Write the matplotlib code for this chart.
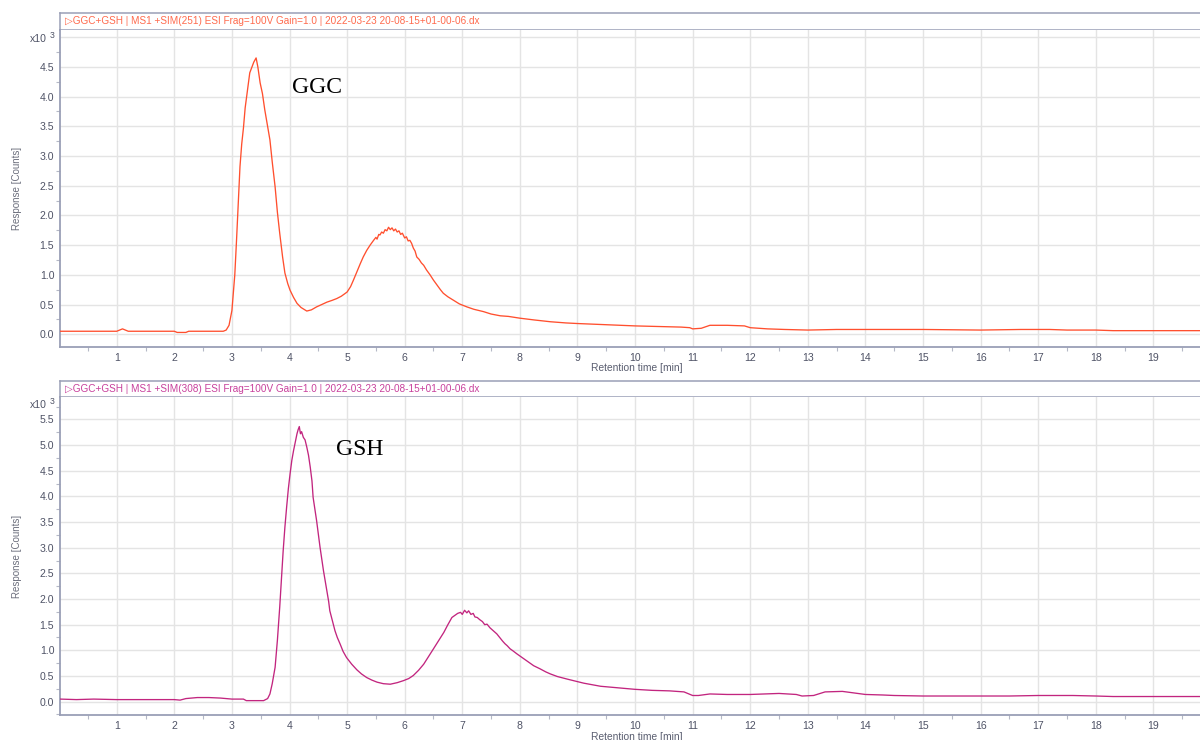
import matplotlib
matplotlib.use("Agg")
import matplotlib.pyplot as plt
from matplotlib.ticker import MultipleLocator, FixedLocator, FuncFormatter

# Extracted ion chromatograms, response in units of 10^3 counts
ggc_time = [0.02, 0.5, 1.0, 1.05, 1.1, 1.15, 1.2, 1.6, 2.0, 2.05, 2.2, 2.25, 2.6, 2.85,
            2.9, 2.95, 3.0, 3.05, 3.08, 3.11, 3.14, 3.17, 3.2, 3.23, 3.27, 3.31, 3.35,
            3.38, 3.42, 3.45, 3.49, 3.53, 3.57, 3.61, 3.66, 3.7, 3.75, 3.79, 3.83, 3.88,
            3.92, 3.97, 4.01, 4.07, 4.13, 4.2, 4.3, 4.38, 4.47, 4.56, 4.65, 4.74, 4.82,
            4.9, 5.0, 5.06, 5.11, 5.17, 5.23, 5.28, 5.34, 5.4, 5.46, 5.5, 5.52, 5.55,
            5.57, 5.6, 5.63, 5.66, 5.69, 5.72, 5.75, 5.78, 5.81, 5.84, 5.87, 5.9, 5.93,
            5.96, 6.0, 6.03, 6.06, 6.09, 6.12, 6.15, 6.18, 6.21, 6.25, 6.29, 6.33, 6.38,
            6.44, 6.5, 6.56, 6.62, 6.67, 6.75, 6.85, 6.95, 7.08, 7.2, 7.37, 7.5, 7.66,
            7.8, 8.0, 8.25, 8.53, 8.8, 9.0, 9.5, 10.0, 10.4, 10.8, 10.95, 11.0, 11.15,
            11.3, 11.6, 11.9, 12.0, 12.3, 12.6, 13.0, 13.5, 14.0, 14.5, 15.0, 16.0,
            16.7, 17.2, 17.5, 18.0, 18.3, 19.0, 19.81]
ggc_resp = [0.05, 0.05, 0.05, 0.07, 0.09, 0.07, 0.05, 0.05, 0.05, 0.03, 0.03, 0.05, 0.05, 0.05,
            0.07, 0.15, 0.40, 1.00, 1.58, 2.20, 2.82, 3.20, 3.47, 3.81, 4.10, 4.40, 4.50,
            4.58, 4.65, 4.50, 4.23, 4.05, 3.78, 3.55, 3.27, 2.90, 2.48, 2.05, 1.70, 1.30,
            1.03, 0.85, 0.74, 0.62, 0.52, 0.45, 0.39, 0.41, 0.46, 0.50, 0.54, 0.57, 0.60,
            0.64, 0.71, 0.80, 0.91, 1.05, 1.19, 1.30, 1.41, 1.50, 1.58, 1.63, 1.60, 1.68,
            1.67, 1.72, 1.70, 1.76, 1.74, 1.80, 1.76, 1.79, 1.74, 1.77, 1.72, 1.74, 1.68,
            1.70, 1.62, 1.64, 1.57, 1.58, 1.53, 1.45, 1.40, 1.30, 1.26, 1.20, 1.16, 1.08,
            1.00, 0.91, 0.83, 0.75, 0.69, 0.63, 0.57, 0.51, 0.46, 0.42, 0.38, 0.34, 0.31,
            0.30, 0.27, 0.24, 0.21, 0.19, 0.18, 0.16, 0.14, 0.13, 0.12, 0.11, 0.09, 0.10,
            0.15, 0.15, 0.14, 0.11, 0.09, 0.08, 0.07, 0.08, 0.08, 0.08, 0.08, 0.07,
            0.08, 0.08, 0.07, 0.07, 0.06, 0.06, 0.06]

gsh_time = [0.02, 0.3, 0.6, 1.0, 1.5, 2.0, 2.1, 2.2, 2.4, 2.6, 2.8, 3.0, 3.2, 3.25, 3.4,
            3.55, 3.62, 3.66, 3.7, 3.75, 3.79, 3.83, 3.86, 3.89, 3.92, 3.95, 3.98, 4.01,
            4.04, 4.07, 4.1, 4.13, 4.15, 4.17, 4.19, 4.21, 4.24, 4.27, 4.3, 4.33, 4.36,
            4.39, 4.41, 4.44, 4.47, 4.5, 4.53, 4.56, 4.59, 4.62, 4.65, 4.68, 4.7, 4.75,
            4.79, 4.83, 4.88, 4.93, 4.99, 5.08, 5.17, 5.25, 5.34, 5.43, 5.52, 5.63, 5.75,
            5.87, 5.98, 6.07, 6.15, 6.24, 6.33, 6.41, 6.5, 6.59, 6.68, 6.75, 6.82, 6.87,
            6.92, 6.97, 7.0, 7.04, 7.08, 7.11, 7.15, 7.19, 7.22, 7.26, 7.3, 7.35, 7.39,
            7.43, 7.48, 7.52, 7.56, 7.6, 7.65, 7.7, 7.74, 7.78, 7.83, 7.88, 7.95, 8.05,
            8.15, 8.24, 8.35, 8.45, 8.53, 8.65, 8.82, 9.0, 9.11, 9.25, 9.4, 9.6, 9.8,
            10.0, 10.3, 10.6, 10.85, 11.0, 11.1, 11.3, 11.6, 12.0, 12.5, 12.8, 12.9,
            13.1, 13.3, 13.6, 13.8, 14.0, 14.3, 14.5, 15.0, 16.0, 16.5, 17.0, 17.6,
            18.0, 18.3, 19.0, 19.81]
gsh_resp = [0.05, 0.04, 0.05, 0.04, 0.04, 0.04, 0.03, 0.06, 0.08, 0.08, 0.07, 0.05, 0.05, 0.02, 0.02,
            0.02, 0.06, 0.15, 0.35, 0.67, 1.20, 1.84, 2.40, 2.94, 3.40, 3.79, 4.15, 4.44,
            4.70, 4.89, 5.05, 5.22, 5.30, 5.36, 5.22, 5.26, 5.15, 5.10, 4.96, 4.80, 4.57,
            4.30, 3.98, 3.75, 3.53, 3.27, 3.01, 2.78, 2.55, 2.35, 2.16, 1.95, 1.77, 1.55,
            1.38, 1.25, 1.12, 0.98, 0.86, 0.73, 0.62, 0.54, 0.47, 0.42, 0.38, 0.35, 0.34,
            0.37, 0.41, 0.45, 0.51, 0.61, 0.73, 0.87, 1.03, 1.19, 1.35, 1.50, 1.64, 1.68,
            1.72, 1.74, 1.70, 1.78, 1.73, 1.77, 1.70, 1.72, 1.65, 1.64, 1.60, 1.56, 1.50,
            1.51, 1.44, 1.40, 1.36, 1.32, 1.25, 1.18, 1.13, 1.09, 1.03, 0.99, 0.93, 0.85,
            0.77, 0.70, 0.64, 0.58, 0.54, 0.49, 0.44, 0.39, 0.36, 0.33, 0.30, 0.28, 0.26,
            0.24, 0.22, 0.21, 0.19, 0.12, 0.12, 0.15, 0.14, 0.14, 0.16, 0.14, 0.11,
            0.12, 0.19, 0.20, 0.17, 0.14, 0.13, 0.12, 0.11, 0.11, 0.11, 0.12, 0.12,
            0.11, 0.10, 0.10, 0.10]

x_ticks = list(range(1, 20))
ggc_yticks = [0.0, 0.5, 1.0, 1.5, 2.0, 2.5, 3.0, 3.5, 4.0, 4.5, 5.0]
gsh_yticks = [0.0, 0.5, 1.0, 1.5, 2.0, 2.5, 3.0, 3.5, 4.0, 4.5, 5.0, 5.5]

ggc_title = "\u25b7GGC+GSH | MS1 +SIM(251) ESI Frag=100V Gain=1.0 | 2022-03-23 20-08-15+01-00-06.dx"
gsh_title = "\u25b7GGC+GSH | MS1 +SIM(308) ESI Frag=100V Gain=1.0 | 2022-03-23 20-08-15+01-00-06.dx"

W, H = 1200, 740
fig = plt.figure(figsize=(W / 100, H / 100), dpi=100)
fig.patch.set_facecolor("white")

SANS = ["Liberation Sans", "DejaVu Sans"]
SPINE = "#9a9fb6"
GRID = "#e4e4e4"
TICKC = "#4f5366"


def fx(px):
    return px / W


def fy(py):
    return 1 - py / H


panels = [
    dict(t=ggc_time, r=ggc_resp, line="#ff4f2e", head="#ff6a4d", title=ggc_title,
         head_top=12.7, head_bot=30.0, ax_bot=346.7, ylim=(-0.21, 5.12),
         yticks=ggc_yticks, hidden_top=True, name="GGC", name_xy=(4.04, 4.06),
         mult_y=38.5, xlabel_y=368),
    dict(t=gsh_time, r=gsh_resp, line="#c2257f", head="#c8409c", title=gsh_title,
         head_top=380.7, head_bot=397.3, ax_bot=715.0, ylim=(-0.26, 5.93),
         yticks=gsh_yticks, hidden_top=False, name="GSH", name_xy=(4.81, 4.80),
         mult_y=405, xlabel_y=736.5),
]

LEFT = 60.3

for p in panels:
    # header strip above the plot area
    hax = fig.add_axes([fx(LEFT), fy(p["head_bot"]), 1 - fx(LEFT) + 0.01,
                        (p["head_bot"] - p["head_top"]) / H])
    hax.set_xticks([])
    hax.set_yticks([])
    for s in ("top", "bottom", "left"):
        hax.spines[s].set_color(SPINE)
        hax.spines[s].set_linewidth(1.1)
    hax.spines["right"].set_visible(False)
    hax.text(0.004, 0.5, p["title"], transform=hax.transAxes, ha="left", va="center",
             fontsize=7.2, color=p["head"], family=SANS)

    ax = fig.add_axes([fx(LEFT), fy(p["ax_bot"]), 1 - fx(LEFT),
                       (p["ax_bot"] - p["head_bot"]) / H])
    ax.plot(p["t"], p["r"], color=p["line"], lw=0.95, zorder=3)
    ax.set_xlim(0.02, 19.81)
    ax.set_ylim(*p["ylim"])

    ax.xaxis.set_major_locator(FixedLocator(x_ticks))
    ax.xaxis.set_minor_locator(MultipleLocator(0.5))
    ax.xaxis.set_major_formatter(FuncFormatter(lambda v, pos: f"{int(round(v))}"))
    ax.yaxis.set_major_locator(FixedLocator(p["yticks"]))
    ax.yaxis.set_minor_locator(MultipleLocator(0.25))
    top_tick = p["yticks"][-1]
    hide = p["hidden_top"]
    ax.yaxis.set_major_formatter(FuncFormatter(
        lambda v, pos, top_tick=top_tick, hide=hide:
        "" if (hide and abs(v - top_tick) < 1e-9) else f"{v:.1f}"))

    ax.tick_params(axis="both", which="major", length=0, labelsize=7.6, labelcolor=TICKC)
    ax.tick_params(axis="x", which="major", pad=4.2)
    ax.tick_params(axis="y", which="major", pad=4.3)
    ax.tick_params(axis="both", which="minor", length=2.6, width=0.8, color="#b5b8c6")
    for lbl in ax.get_xticklabels() + ax.get_yticklabels():
        lbl.set_family(SANS)

    ax.grid(True, which="major", color=GRID, lw=1.0)
    ax.set_axisbelow(True)
    for s in ("left", "bottom"):
        ax.spines[s].set_color(SPINE)
        ax.spines[s].set_linewidth(1.3)
    ax.spines["top"].set_visible(False)
    ax.spines["right"].set_visible(False)

    # peak name
    ax.text(p["name_xy"][0], p["name_xy"][1], p["name"], ha="left", va="baseline",
            fontsize=17, color="black", family=["Liberation Serif", "DejaVu Serif"])

    # scale multiplier
    fig.text(fx(47), fy(p["mult_y"]), "x10", ha="right", va="center",
             fontsize=7.6, color=TICKC, family=SANS)
    fig.text(fx(49.5), fy(p["mult_y"] - 3), "3", ha="left", va="center",
             fontsize=6.2, color=TICKC, family=SANS)

    # axis titles
    mid = (p["head_bot"] + p["ax_bot"]) / 2
    fig.text(fx(17), fy(mid), "Response [Counts]", rotation=90, ha="center",
             va="center", fontsize=7.0, color="#6b6e7c", family=SANS)
    fig.text(fx(637), fy(p["xlabel_y"]), "Retention time [min]", ha="center",
             va="center", fontsize=7.4, color="#5a5e70", family=SANS)

fig.savefig("out.png", dpi=100, facecolor="white")
